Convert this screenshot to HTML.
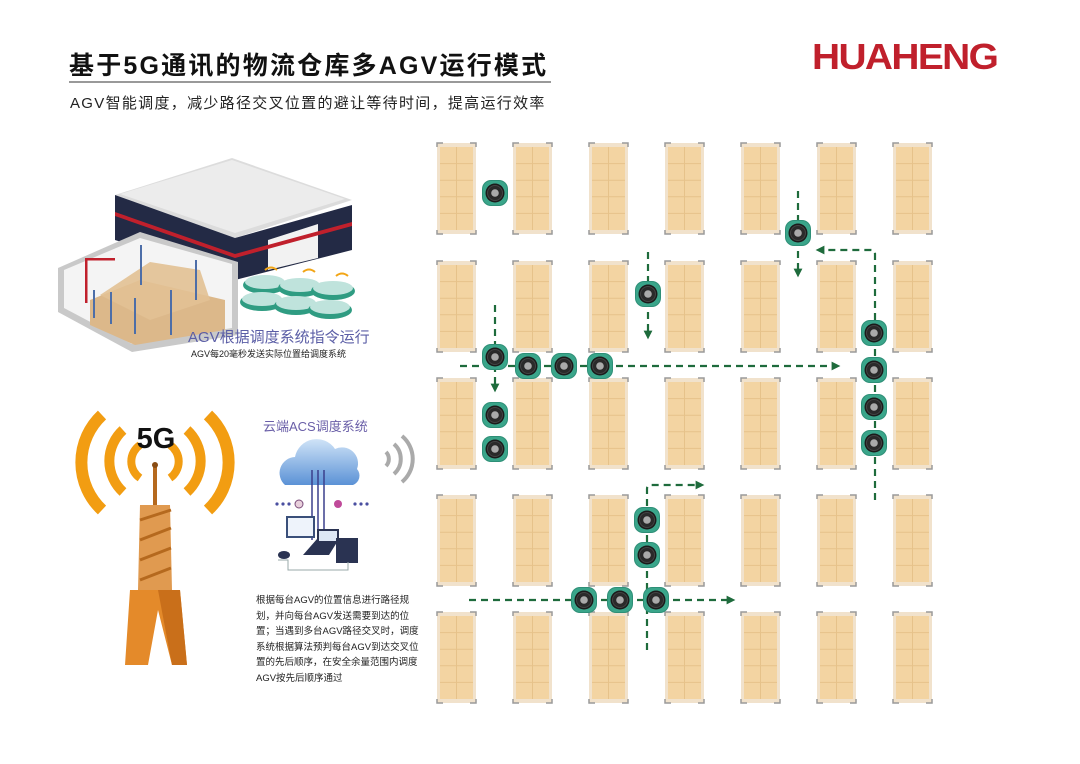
<!DOCTYPE html>
<html><head><meta charset="utf-8"><style>
html,body{margin:0;padding:0;background:#fff}
body{width:1080px;height:764px;position:relative;overflow:hidden;font-family:"Liberation Sans","Noto Sans CJK SC",sans-serif}
.t{position:absolute;white-space:nowrap}
</style></head><body>
<div class="t" style="left:69px;top:46px;font-size:25px;font-weight:bold;color:#111;letter-spacing:2.2px">基于5G通讯的物流仓库多AGV运行模式</div>
<div style="position:absolute;left:69px;top:81px;width:482px;height:2px;background:#999"></div>
<div class="t" style="left:70px;top:92px;font-size:15px;color:#222;letter-spacing:1.3px">AGV智能调度，减少路径交叉位置的避让等待时间，提高运行效率</div>
<div class="t" style="left:812px;top:36px;font-size:36px;font-weight:bold;color:#c0202c;transform:scaleX(1.08);transform-origin:left top;letter-spacing:-1.5px">HUAHENG</div>

<svg width="1080" height="764" style="position:absolute;left:0;top:0" xmlns="http://www.w3.org/2000/svg">
<defs>
<g id="rack">
<rect x="0" y="0" width="39" height="91" fill="#f1e2cc"/>
<rect x="3" y="4" width="33" height="83" fill="#f3d4a2"/>
<g stroke="#e6c28a" stroke-width="1">
<line x1="19.5" y1="4" x2="19.5" y2="87"/>
<line x1="3" y1="20.6" x2="36" y2="20.6"/><line x1="3" y1="37.2" x2="36" y2="37.2"/>
<line x1="3" y1="53.8" x2="36" y2="53.8"/><line x1="3" y1="70.4" x2="36" y2="70.4"/>
</g>
<path d="M0 4V0H6M33 0H39V4M0 87V91H6M33 91H39V87" stroke="#9a9a9a" stroke-width="1.5" fill="none"/>
</g>
<g id="agv">
<rect x="-13" y="-13" width="26" height="26" rx="9" fill="#2e8f77"/>
<rect x="-12" y="-12" width="24" height="24" rx="8" fill="#3aa58a"/>
<circle r="9.5" fill="#1b1b1b"/>
<circle r="7.5" fill="#2a2a2a" stroke="#444"/>
<circle r="3.8" fill="#aaa"/>
</g>
<marker id="ah" viewBox="0 0 10 10" refX="5" refY="5" markerWidth="4" markerHeight="4" orient="auto"><path d="M0 0L10 5L0 10z" fill="#1e6b3c"/></marker>
<linearGradient id="cl" x1="0" y1="0" x2="0" y2="1"><stop offset="0" stop-color="#cfe3f7"/><stop offset="1" stop-color="#5b92d6"/></linearGradient>
</defs>

<g>
<use href="#rack" x="437" y="143"/><use href="#rack" x="513" y="143"/><use href="#rack" x="589" y="143"/><use href="#rack" x="665" y="143"/><use href="#rack" x="741" y="143"/><use href="#rack" x="817" y="143"/><use href="#rack" x="893" y="143"/>
<use href="#rack" x="437" y="261"/><use href="#rack" x="513" y="261"/><use href="#rack" x="589" y="261"/><use href="#rack" x="665" y="261"/><use href="#rack" x="741" y="261"/><use href="#rack" x="817" y="261"/><use href="#rack" x="893" y="261"/>
<use href="#rack" x="437" y="378"/><use href="#rack" x="513" y="378"/><use href="#rack" x="589" y="378"/><use href="#rack" x="665" y="378"/><use href="#rack" x="741" y="378"/><use href="#rack" x="817" y="378"/><use href="#rack" x="893" y="378"/>
<use href="#rack" x="437" y="495"/><use href="#rack" x="513" y="495"/><use href="#rack" x="589" y="495"/><use href="#rack" x="665" y="495"/><use href="#rack" x="741" y="495"/><use href="#rack" x="817" y="495"/><use href="#rack" x="893" y="495"/>
<use href="#rack" x="437" y="612"/><use href="#rack" x="513" y="612"/><use href="#rack" x="589" y="612"/><use href="#rack" x="665" y="612"/><use href="#rack" x="741" y="612"/><use href="#rack" x="817" y="612"/><use href="#rack" x="893" y="612"/>
</g>

<g stroke="#1e6b3c" stroke-width="2.2" stroke-dasharray="7,5" fill="none" marker-end="url(#ah)">
<path d="M460 366H836"/>
<path d="M495 305V388"/>
<path d="M648 252V335"/>
<path d="M798 191V273"/>
<path d="M875 500V254Q875 250 871 250H820"/>
<path d="M647 650V489Q647 485 651 485H700"/>
<path d="M469 600H731"/>
</g>

<g>
<use href="#agv" x="495" y="193"/>
<use href="#agv" x="798" y="233"/>
<use href="#agv" x="648" y="294"/>
<use href="#agv" x="495" y="357"/><use href="#agv" x="528" y="366"/><use href="#agv" x="564" y="366"/><use href="#agv" x="600" y="366"/>
<use href="#agv" x="495" y="415"/><use href="#agv" x="495" y="449"/>
<use href="#agv" x="874" y="333"/><use href="#agv" x="874" y="370"/><use href="#agv" x="874" y="407"/><use href="#agv" x="874" y="443"/>
<use href="#agv" x="647" y="520"/><use href="#agv" x="647" y="555"/>
<use href="#agv" x="584" y="600"/><use href="#agv" x="620" y="600"/><use href="#agv" x="656" y="600"/>
</g>

<!-- warehouse -->
<polygon points="115,195 232,158 352,200 235,238" fill="#dcdcdc"/>
<polygon points="120,194 232,160 345,199 235,233" fill="#ececec"/>
<polygon points="115,195 235,238 235,278 115,240" fill="#232a45"/>
<polygon points="235,238 352,205 352,250 235,280" fill="#232a45"/>
<polygon points="268,240 318,224 318,258 268,270" fill="#f2f2f2"/>
<polygon points="115,212 235,254 352,222 352,226 235,258 115,216" fill="#c0202c"/>
<polygon points="58,268 140,232 238,262 238,335 132,352 58,312" fill="#c9c9c9"/>
<polygon points="64,270 140,238 232,264 232,328 132,344 64,308" fill="#f4f4f4"/>
<polygon points="90,300 140,280 225,300 225,330 135,345 90,325" fill="#dcb88a"/>
<polygon points="100,295 150,262 200,270 210,300 150,320" fill="#e2c194" opacity=".9"/>
<rect x="85" y="258" width="2.5" height="45" fill="#c0202c"/><rect x="85" y="258" width="30" height="2.5" fill="#c0202c"/>
<g fill="#4d6ea8"><rect x="93" y="290" width="2" height="28"/><rect x="110" y="292" width="2" height="32"/><rect x="134" y="298" width="2" height="36"/><rect x="170" y="290" width="2" height="45"/><rect x="140" y="245" width="2" height="40"/><rect x="195" y="260" width="2" height="40"/></g>
<g>
<ellipse cx="265" cy="285" rx="22" ry="9" fill="#2f9c82"/><ellipse cx="265" cy="282" rx="20" ry="7" fill="#bfe3dc"/>
<ellipse cx="300" cy="288" rx="22" ry="9" fill="#2f9c82"/><ellipse cx="300" cy="285" rx="20" ry="7" fill="#bfe3dc"/>
<ellipse cx="333" cy="291" rx="22" ry="9" fill="#2f9c82"/><ellipse cx="333" cy="288" rx="20" ry="7" fill="#bfe3dc"/>
<ellipse cx="262" cy="302" rx="22" ry="9" fill="#2f9c82"/><ellipse cx="262" cy="299" rx="20" ry="7" fill="#bfe3dc"/>
<ellipse cx="296" cy="306" rx="22" ry="9" fill="#2f9c82"/><ellipse cx="296" cy="303" rx="20" ry="7" fill="#bfe3dc"/>
<ellipse cx="330" cy="310" rx="22" ry="9" fill="#2f9c82"/><ellipse cx="330" cy="307" rx="20" ry="7" fill="#bfe3dc"/>
</g>
<g stroke="#f2a516" stroke-width="2" fill="none"><path d="M265 270q6-5 12 0M303 272q6-5 12 0M336 276q6-5 12 0"/></g>

<!-- 5G -->
<g stroke="#f29d12" fill="none" stroke-linecap="butt">
<path d="M123 430A42 42 0 0 0 123 492" stroke-width="10"/>
<path d="M102 415A65 65 0 0 0 102 510" stroke-width="12"/>
<path d="M187 430A42 42 0 0 1 187 492" stroke-width="10"/>
<path d="M208 415A65 65 0 0 1 208 510" stroke-width="12"/>
<path d="M140 445A20 20 0 0 0 140 478" stroke-width="8"/>
<path d="M170 445A20 20 0 0 1 170 478" stroke-width="8"/>
</g>
<text x="156" y="448" font-size="29" font-weight="bold" text-anchor="middle" fill="#111" font-family="Liberation Sans">5G</text>
<rect x="153" y="465" width="4" height="40" fill="#b5691e"/>
<circle cx="155" cy="465" r="3" fill="#8a4d14"/>
<polygon points="140,505 170,505 172,590 138,590" fill="#e09a50"/>
<g stroke="#b5691e" stroke-width="3"><line x1="140" y1="520" x2="171" y2="510"/><line x1="140" y1="540" x2="171" y2="528"/><line x1="140" y1="560" x2="171" y2="548"/><line x1="140" y1="580" x2="171" y2="568"/></g>
<polygon points="130,590 180,590 187,665 172,665 158,610 148,665 125,665" fill="#e48a2a"/>
<polygon points="158,590 180,590 187,665 172,665" fill="#c96f1a"/>

<!-- cloud -->
<path d="M285 485a16 16 0 0 1 10-28a22 22 0 0 1 40-8a16 16 0 0 1 22 20a10 10 0 0 1 -4 16z" fill="url(#cl)"/>
<g stroke="#3a3f8c" stroke-width="1.5"><line x1="312" y1="470" x2="312" y2="540"/><line x1="318" y1="470" x2="318" y2="540"/><line x1="324" y1="470" x2="324" y2="540"/></g>
<g fill="#4a4fa0"><circle cx="277" cy="504" r="1.6"/><circle cx="283" cy="504" r="1.6"/><circle cx="289" cy="504" r="1.6"/><circle cx="355" cy="504" r="1.6"/><circle cx="361" cy="504" r="1.6"/><circle cx="367" cy="504" r="1.6"/></g>
<circle cx="299" cy="504" r="4" fill="#e8d0dc" stroke="#7a4b7a"/><circle cx="338" cy="504" r="4" fill="#c04a9a"/>
<rect x="287" y="517" width="27" height="20" fill="#eef3fb" stroke="#3a4f7a" stroke-width="2"/>
<path d="M303 555l14-16h22l-10 16z" fill="#2a3352"/><rect x="318" y="530" width="20" height="12" fill="#dde7f5" stroke="#2a3352" stroke-width="2"/>
<rect x="336" y="538" width="22" height="25" fill="#2a3352"/>
<ellipse cx="284" cy="555" rx="6" ry="4" fill="#2a3352"/>
<g stroke="#9aa" fill="none"><path d="M278 560h10v10h60v-8"/></g>
<g stroke="#aaa" stroke-width="4" fill="none"><path d="M386 452a10 10 0 0 1 0 14"/><path d="M394 444a20 20 0 0 1 0 30"/><path d="M402 436a30 30 0 0 1 0 46"/></g>
</svg>

<div class="t" style="left:188px;top:326px;font-size:15px;color:#5b5ea6">AGV根据调度系统指令运行</div>
<div class="t" style="left:191px;top:347px;font-size:9px;color:#222">AGV每20毫秒发送实际位置给调度系统</div>
<div class="t" style="left:263px;top:416px;font-size:13px;color:#6a5fa8">云端ACS调度系统</div>
<div style="position:absolute;left:256px;top:593px;width:172px;font-size:9.5px;line-height:15.6px;color:#222">根据每台AGV的位置信息进行路径规划，并向每台AGV发送需要到达的位置；当遇到多台AGV路径交叉时，调度系统根据算法预判每台AGV到达交叉位置的先后顺序，在安全余量范围内调度AGV按先后顺序通过</div>
</body></html>
